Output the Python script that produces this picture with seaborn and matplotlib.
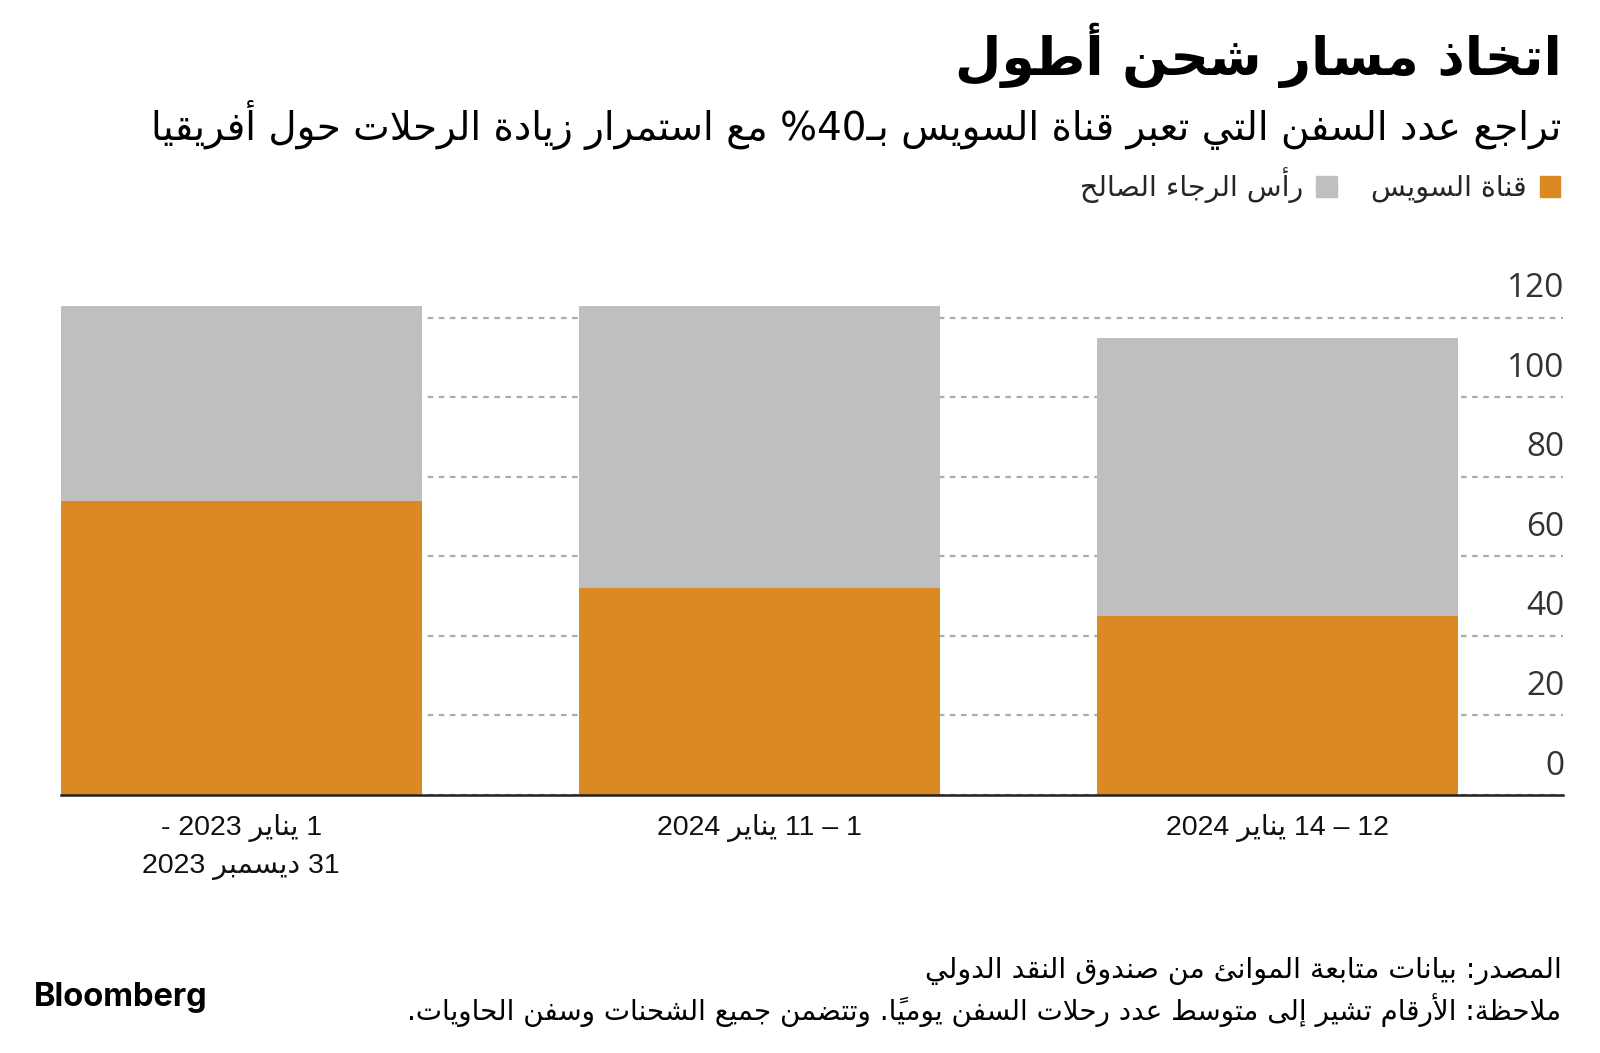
import matplotlib
matplotlib.use("Agg")
import matplotlib.pyplot as plt
import matplotlib.patches as mpatches
import pandas as pd
import seaborn as sns

# ---------------------------
# البيانات (متوسط عدد رحلات السفن يومياً)
# ---------------------------
periods = ["1 يناير 2023 -\n31 ديسمبر 2023", "1 – 11 يناير 2024", "12 – 14 يناير 2024"]
suez = [74, 52, 45]          # قناة السويس
cape = [49, 71, 70]          # رأس الرجاء الصالح
y_ticks = [0, 20, 40, 60, 80, 100, 120]

title = "اتخاذ مسار شحن أطول"
subtitle = "تراجع عدد السفن التي تعبر قناة السويس بـ40% مع استمرار زيادة الرحلات حول أفريقيا"
legend_suez = "قناة السويس"
legend_cape = "رأس الرجاء الصالح"
source = "المصدر: بيانات متابعة الموانئ من صندوق النقد الدولي"
note = "ملاحظة: الأرقام تشير إلى متوسط عدد رحلات السفن يومياً. وتتضمن جميع الشحنات وسفن الحاويات."

ORANGE = "#DA8923"
GREY = "#BFBFBF"

# ---------------------------
# تشكيل النص العربي يدوياً (matplotlib لا يدعم الربط ولا الاتجاه من اليمين لليسار)
# ---------------------------
DUAL = {'\u0626': 0xFE89, '\u0628': 0xFE8F, '\u062A': 0xFE95, '\u062B': 0xFE99,
        '\u062C': 0xFE9D, '\u062D': 0xFEA1, '\u062E': 0xFEA5, '\u0633': 0xFEB1,
        '\u0634': 0xFEB5, '\u0635': 0xFEB9, '\u0636': 0xFEBD, '\u0637': 0xFEC1,
        '\u0638': 0xFEC5, '\u0639': 0xFEC9, '\u063A': 0xFECD, '\u0641': 0xFED1,
        '\u0642': 0xFED5, '\u0643': 0xFED9, '\u0644': 0xFEDD, '\u0645': 0xFEE1,
        '\u0646': 0xFEE5, '\u0647': 0xFEE9, '\u064A': 0xFEF1}
RIGHT = {'\u0622': 0xFE81, '\u0623': 0xFE83, '\u0624': 0xFE85, '\u0625': 0xFE87,
         '\u0627': 0xFE8D, '\u0629': 0xFE93, '\u062F': 0xFEA9, '\u0630': 0xFEAB,
         '\u0631': 0xFEAD, '\u0632': 0xFEAF, '\u0648': 0xFEED, '\u0649': 0xFEEF}
LAMALEF = {'\u0622': 0xFEF5, '\u0623': 0xFEF7, '\u0625': 0xFEF9, '\u0627': 0xFEFB}
MARKS = set(chr(c) for c in range(0x064B, 0x0653))
TATWEEL = '\u0640'


def joins_next(t):
    return t in DUAL or t == TATWEEL


def joins_prev(t):
    return t in DUAL or t in RIGHT or t == TATWEEL or len(t) == 2


def shape_line(txt):
    toks = []
    i = 0
    while i < len(txt):
        if txt[i] == '\u0644' and i + 1 < len(txt) and txt[i + 1] in LAMALEF:
            toks.append(txt[i:i + 2])
            i += 2
        else:
            toks.append(txt[i])
            i += 1
    out = []
    for k, t in enumerate(toks):
        if t in MARKS:
            out.append(t)
            continue
        p = k - 1
        while p >= 0 and toks[p] in MARKS:
            p -= 1
        q = k + 1
        while q < len(toks) and toks[q] in MARKS:
            q += 1
        prev_ok = p >= 0 and joins_next(toks[p]) and joins_prev(t)
        next_ok = q < len(toks) and joins_next(t) and joins_prev(toks[q])
        if len(t) == 2:
            out.append(chr(LAMALEF[t[1]] + (1 if prev_ok else 0)))
        elif t in DUAL:
            idx = 3 if (prev_ok and next_ok) else 1 if prev_ok else 2 if next_ok else 0
            out.append(chr(DUAL[t] + idx))
        elif t in RIGHT:
            out.append(chr(RIGHT[t] + (1 if prev_ok else 0)))
        elif t == '\u0621':
            out.append('\uFE80')
        else:
            out.append(t)
    # حروف + علامات التشكيل
    clusters = []
    for c in out:
        if c in MARKS and clusters:
            clusters[-1] += c
        else:
            clusters.append(c)
    clusters = clusters[::-1]
    # إعادة الأرقام والحروف اللاتينية إلى ترتيبها من اليسار لليمين
    res, run = [], []
    for c in clusters:
        if c[0].isascii() and c[0].isalnum():
            run.append(c)
        else:
            res.extend(run[::-1])
            run = []
            res.append(c)
    res.extend(run[::-1])
    return "".join(res)


def ar(txt):
    return "\n".join(shape_line(l) for l in txt.split("\n"))


# ---------------------------
# الرسم
# ---------------------------
sns.set_theme(style="white")
plt.rcParams['font.family'] = ['DejaVu Sans']

df = pd.DataFrame({"period": [ar(p) for p in periods], "suez": suez, "cape": cape})
df["total"] = df["suez"] + df["cape"]

fig = plt.figure(figsize=(16, 10.53), dpi=100)
ax = fig.add_axes([0.038, 0.245, 0.939, 0.491])

sns.barplot(data=df, x="period", y="total", color=GREY, saturation=1, width=0.696,
            linewidth=0, ax=ax)
sns.barplot(data=df, x="period", y="suez", color=ORANGE, saturation=1, width=0.696,
            linewidth=0, ax=ax)

ax.set_xlim(-0.348, 2.551)
ax.set_ylim(0, 130)
ax.set_yticks(y_ticks)
ax.grid(axis="y", color="#ABABAB", linestyle=(0, (2.5, 2.5)), linewidth=1.6)
ax.grid(axis="x", visible=False)
ax.set_axisbelow(True)
ax.tick_params(axis="y", left=False, right=False, labelleft=False, labelright=False)
ax.tick_params(axis="x", length=0, pad=14, labelsize=20.5, colors="#111111")
for lab in ax.get_xticklabels():
    lab.set_family(["Liberation Sans", "DejaVu Sans"])
    lab.set_linespacing(1.55)
for s in ["left", "right", "top"]:
    ax.spines[s].set_visible(False)
ax.spines["bottom"].set_color("#222222")
ax.spines["bottom"].set_linewidth(1.8)
ax.set_xlabel("")
ax.set_ylabel("")

for v in y_ticks:
    ax.annotate(str(v), xy=(1, v), xycoords=("axes fraction", "data"),
                xytext=(1, 9), textcoords="offset points", ha="right", va="bottom",
                fontsize=24, color="#333333", family=["Open Sans", "DejaVu Sans"])

# العنوان والعنوان الفرعي
fig.text(0.976, 0.947, ar(title), ha="right", va="center", fontsize=38.5,
         fontweight="bold", color="black")
fig.text(0.976, 0.881, ar(subtitle), ha="right", va="center", fontsize=28, color="black")

# وسيلة الإيضاح
handles = [mpatches.Patch(color=GREY), mpatches.Patch(color=ORANGE)]
fig.legend(handles, [ar(legend_cape), ar(legend_suez)], loc="center right",
           bbox_to_anchor=(0.975, 0.824), ncol=2, markerfirst=False, frameon=False,
           borderpad=0, borderaxespad=0,
           handlelength=0.72, handleheight=0.72, handletextpad=0.45, columnspacing=1.2,
           prop={"size": 20.5})

# المصدر والملاحظة
fig.text(0.976, 0.078, ar(source), ha="right", va="center", fontsize=20.5, color="black")
fig.text(0.976, 0.041, ar(note), ha="right", va="center", fontsize=20, color="black")
fig.text(0.021, 0.053, "Bloomberg", ha="left", va="center", fontsize=23.5,
         fontweight="bold", color="black", family=["Inter", "DejaVu Sans"])

fig.savefig("out.png", dpi=100)
